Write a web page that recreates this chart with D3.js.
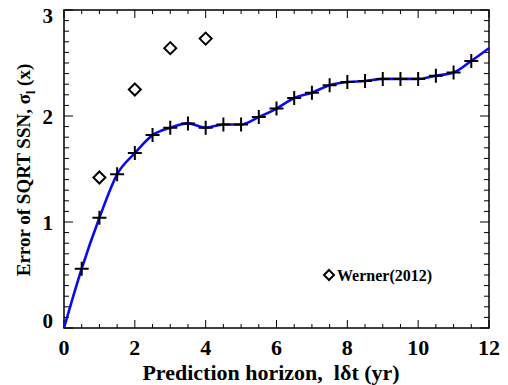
<html>
<head>
  <script src="https://d3js.org/d3.v7.min.js"></script>
  <style>
    body { margin: 0; background: #fff; }
  </style>
</head>
<body>
  <svg id="chart" width="508" height="385"></svg>
  <script>
    // prediction horizon (yr) and error of the method (crosses)
    const horizon = [0.5, 1, 1.5, 2, 2.5, 3, 3.5, 4, 4.5, 5, 5.5, 6, 6.5, 7, 7.5, 8, 8.5, 9, 9.5, 10, 10.5, 11, 11.5];
    const sigma = [0.56, 1.04, 1.45, 1.65, 1.82, 1.89, 1.93, 1.89, 1.92, 1.92, 1.99, 2.07, 2.17, 2.22, 2.29, 2.32, 2.33, 2.35, 2.35, 2.35, 2.38, 2.41, 2.52];
    // curve end points
    const curveStart = { x: 0, y: 0 };
    const curveEnd = { x: 12, y: 2.64 };
    // Werner (2012) points
    const wernerX = [1, 2, 3, 4];
    const wernerY = [1.42, 2.25, 2.64, 2.73];

    const xTicks = [0, 2, 4, 6, 8, 10, 12];
    const yTicks = [0, 1, 2, 3];
    const yLabelShift = { 0: -7, 1: 1, 2: 1, 3: 6 };

    const FONT = "'Liberation Serif', Tinos, 'Times New Roman', serif";

    const margin = { top: 10, right: 19, bottom: 57, left: 64 };
    const width = 508 - margin.left - margin.right;
    const height = 385 - margin.top - margin.bottom;

    const x = d3.scaleLinear().domain([0, 12]).range([0, width]);
    const y = d3.scaleLinear().domain([0, 3]).range([height, 0]);

    const svg = d3.select("svg#chart")
      .attr("font-family", FONT).attr("font-weight", "bold");
    const g = svg.append("g").attr("transform", `translate(${margin.left},${margin.top})`);

    // minor and major ticks, all pointing inward, on all four sides
    const xMinor = d3.range(0, 12.01, 0.5);
    const yMinor = d3.range(0, 3.001, 0.1);
    const tickG = g.append("g").attr("stroke", "#000").attr("stroke-width", 1);
    xMinor.forEach(v => {
      const len = Math.abs(v % 2) < 1e-6 ? 8 : 4;
      tickG.append("line").attr("x1", x(v)).attr("x2", x(v)).attr("y1", height).attr("y2", height - len);
      tickG.append("line").attr("x1", x(v)).attr("x2", x(v)).attr("y1", 0).attr("y2", len);
    });
    yMinor.forEach(v => {
      const major = Math.abs(v - Math.round(v)) < 1e-6;
      const len = major ? 9 : 5;
      tickG.append("line").attr("y1", y(v)).attr("y2", y(v)).attr("x1", 0).attr("x2", len);
      tickG.append("line").attr("y1", y(v)).attr("y2", y(v)).attr("x1", width).attr("x2", width - len);
    });

    g.append("rect").attr("width", width).attr("height", height)
      .attr("fill", "none").attr("stroke", "#000").attr("stroke-width", 1.5);

    // tick labels
    g.selectAll(".xl").data(xTicks).join("text")
      .attr("x", d => x(d)).attr("y", height + 27)
      .attr("text-anchor", "middle").attr("font-size", 22)
      .text(d => d);
    g.selectAll(".yl").data(yTicks).join("text")
      .attr("x", -11).attr("y", d => y(d) + yLabelShift[d] + 7)
      .attr("text-anchor", "end").attr("font-size", 21)
      .text(d => d);

    // axis titles
    svg.append("text")
      .attr("x", 271).attr("y", 380)
      .attr("text-anchor", "middle").attr("font-size", 22)
      .style("white-space", "pre")
      .text("Prediction horizon,  l\u03b4t (yr)");
    const yt = svg.append("text")
      .attr("transform", "translate(30,170) rotate(-90)")
      .attr("text-anchor", "middle").attr("font-size", 19);
    yt.append("tspan").text("Error of SQRT SSN, \u03c3");
    yt.append("tspan").attr("dy", 5).attr("font-size", 12).text("l");
    yt.append("tspan").attr("dy", -5).text(" (x)");

    // smooth line
    const linePts = [curveStart].concat(horizon.map((h, i) => ({ x: h, y: sigma[i] })), [curveEnd]);
    g.append("path").datum(linePts)
      .attr("fill", "none").attr("stroke", "#0a0af0").attr("stroke-width", 2.6)
      .attr("d", d3.line().x(d => x(d.x)).y(d => y(d.y)).curve(d3.curveMonotoneX));

    // crosses
    g.selectAll(".cross").data(horizon).join("path")
      .attr("transform", (d, i) => `translate(${x(d)},${y(sigma[i])})`)
      .attr("d", "M-7,0H7M0,-7V7")
      .attr("stroke", "#000").attr("stroke-width", 2);

    // Werner diamonds
    g.selectAll(".wern").data(wernerX).join("path")
      .attr("transform", (d, i) => `translate(${x(d)},${y(wernerY[i])})`)
      .attr("d", "M0,-6L6,0L0,6L-6,0Z")
      .attr("fill", "none").attr("stroke", "#000").attr("stroke-width", 2);

    // legend
    svg.append("path").attr("transform", "translate(329,275)")
      .attr("d", "M0,-5L5,0L0,5L-5,0Z")
      .attr("fill", "none").attr("stroke", "#000").attr("stroke-width", 2);
    svg.append("text").attr("x", 337).attr("y", 281)
      .attr("font-size", 16).text("Werner(2012)");
  </script>
</body>
</html>
